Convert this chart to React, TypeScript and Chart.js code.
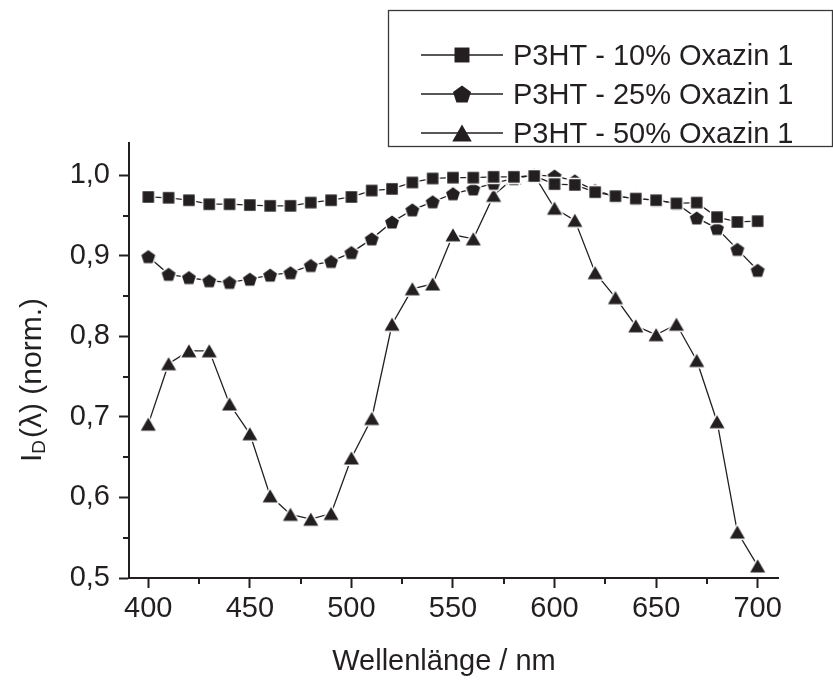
import React, { useEffect, useRef } from "react";
import { Chart, registerables } from "chart.js";

Chart.register(...registerables);

// ---------- data ----------
const wavelengths = [
  400, 410, 420, 430, 440, 450, 460, 470, 480, 490, 500, 510, 520, 530, 540, 550,
  560, 570, 580, 590, 600, 610, 620, 630, 640, 650, 660, 670, 680, 690, 700,
];
const oxazin10 = [
  0.973, 0.972, 0.969, 0.964, 0.964, 0.963, 0.962, 0.962, 0.966, 0.969, 0.973, 0.981, 0.983, 0.991, 0.996, 0.997,
  0.997, 0.998, 0.998, 0.999, 0.989, 0.988, 0.979, 0.974, 0.971, 0.969, 0.965, 0.966, 0.948, 0.942, 0.943,
];
const oxazin25 = [
  0.899, 0.877, 0.873, 0.869, 0.867, 0.871, 0.876, 0.879, 0.888, 0.893, 0.904, 0.921, 0.942, 0.957, 0.967, 0.977,
  0.983, 0.99, 0.996, 1.0, 0.999, 0.993, 0.981, 0.974, 0.971, 0.969, 0.965, 0.947, 0.934, 0.908, 0.882,
];
const oxazin50 = [
  0.691, 0.766, 0.782, 0.782, 0.716, 0.679, 0.602, 0.579, 0.573, 0.58, 0.649, 0.698, 0.815, 0.859, 0.865, 0.926,
  0.921, 0.975, 0.997, 1.0, 0.959, 0.944, 0.879, 0.848, 0.813, 0.802, 0.815, 0.77, 0.694, 0.557, 0.515,
];
const seriesNames = ["P3HT - 10% Oxazin 1", "P3HT - 25% Oxazin 1", "P3HT - 50% Oxazin 1"];
const markerKinds = ["square", "pentagon", "triangle"];
const xTitle = "Wellenlänge / nm";
const yTitleMain = "I";
const yTitleSub = "D";
const yTitleRest = "(λ) (norm.)";
const xMinorTicks = [425, 475, 525, 575, 625, 675];
const yMinorTicks = [0.55, 0.65, 0.75, 0.85, 0.95];

// ---------- style ----------
const INK = "#231f20";
const FONT = "'Liberation Sans', Arial, Helvetica, sans-serif";
const FS = 29;

function markerPath(ctx: CanvasRenderingContext2D, kind: string, cx: number, cy: number, k: number) {
  ctx.beginPath();
  if (kind === "square") {
    const s = 11.5 * k;
    ctx.rect(cx - s / 2, cy - s / 2, s, s);
  } else if (kind === "pentagon") {
    const R = 7.3 * k;
    const off = 0.0955 * R;
    for (let i = 0; i < 5; i++) {
      const a = -Math.PI / 2 + (i * 2 * Math.PI) / 5;
      const px = cx + R * Math.cos(a);
      const py = cy + off + R * Math.sin(a);
      if (i === 0) ctx.moveTo(px, py);
      else ctx.lineTo(px, py);
    }
    ctx.closePath();
  } else {
    const w = 15 * k;
    const h = 13 * k;
    ctx.moveTo(cx, cy - h / 2);
    ctx.lineTo(cx + w / 2, cy + h / 2);
    ctx.lineTo(cx - w / 2, cy + h / 2);
    ctx.closePath();
  }
}

function drawMarker(ctx: CanvasRenderingContext2D, kind: string, cx: number, cy: number, k: number, halo: boolean) {
  markerPath(ctx, kind, cx, cy, k);
  if (halo) {
    ctx.lineJoin = "round";
    ctx.lineWidth = 3;
    ctx.strokeStyle = "#ffffff";
    ctx.stroke();
  }
  ctx.fillStyle = INK;
  ctx.fill();
}

function makeMarkerCanvas(kind: string): HTMLCanvasElement {
  const c = document.createElement("canvas");
  c.width = 24;
  c.height = 24;
  const ctx = c.getContext("2d")!;
  drawMarker(ctx, kind, 12, 12, 1, true);
  return c;
}

const decorPlugin = {
  id: "decor",
  afterDraw(chart: any) {
    const ctx: CanvasRenderingContext2D = chart.ctx;
    const xs = chart.scales.x;
    const ys = chart.scales.y;
    const area = chart.chartArea;
    ctx.save();
    // minor ticks
    ctx.strokeStyle = INK;
    ctx.lineWidth = 2;
    ctx.beginPath();
    xMinorTicks.forEach((v) => {
      const p = Math.round(xs.getPixelForValue(v));
      ctx.moveTo(p, area.bottom);
      ctx.lineTo(p, area.bottom + 6);
    });
    yMinorTicks.forEach((v) => {
      const p = Math.round(ys.getPixelForValue(v));
      ctx.moveTo(area.left, p);
      ctx.lineTo(area.left - 6, p);
    });
    ctx.stroke();

    // x title
    ctx.fillStyle = INK;
    ctx.font = `${FS}px ${FONT}`;
    ctx.textAlign = "center";
    ctx.textBaseline = "alphabetic";
    ctx.fillText(xTitle, 444, 670);

    // y title (rotated, with subscript)
    ctx.save();
    ctx.translate(41, 380);
    ctx.rotate(-Math.PI / 2);
    ctx.textAlign = "left";
    const big = `30px ${FONT}`;
    const small = `19px ${FONT}`;
    ctx.font = big;
    const wI = ctx.measureText(yTitleMain).width;
    const wR = ctx.measureText(yTitleRest).width;
    ctx.font = small;
    const wD = ctx.measureText(yTitleSub).width;
    const gap = 2;
    let x0 = -(wI + wD + wR + gap) / 2;
    ctx.font = big;
    ctx.fillText(yTitleMain, x0, 0);
    x0 += wI;
    ctx.font = small;
    ctx.fillText(yTitleSub, x0, 4);
    x0 += wD + gap;
    ctx.font = big;
    ctx.fillText(yTitleRest, x0, 0);
    ctx.restore();

    // legend box
    ctx.fillStyle = "#ffffff";
    ctx.fillRect(388.5, 10.5, 444, 136);
    ctx.strokeStyle = "#3a3a3a";
    ctx.lineWidth = 1.3;
    ctx.strokeRect(388.5, 10.5, 444, 136);
    const rows = [55, 94, 133];
    seriesNames.forEach((name, i) => {
      const y = rows[i];
      ctx.strokeStyle = INK;
      ctx.lineWidth = 1.3;
      ctx.beginPath();
      ctx.moveTo(421, y);
      ctx.lineTo(503, y);
      ctx.stroke();
      drawMarker(ctx, markerKinds[i], 462, y, 1.3, false);
      ctx.fillStyle = INK;
      ctx.font = `${FS}px ${FONT}`;
      ctx.textAlign = "left";
      ctx.textBaseline = "alphabetic";
      ctx.fillText(name, 513, y + 10.4);
    });
    ctx.restore();
  },
};

export default function App() {
  const canvasRef = useRef<HTMLCanvasElement | null>(null);

  useEffect(() => {
    const canvas = canvasRef.current;
    if (!canvas) return;
    const series = [oxazin10, oxazin25, oxazin50];
    const markers = markerKinds.map((k) => makeMarkerCanvas(k));
    const chart = new Chart(canvas, {
      type: "line",
      data: {
        datasets: series.map((vals, i) => ({
          label: seriesNames[i],
          data: wavelengths.map((w, j) => ({ x: w, y: vals[j] })),
          borderColor: INK,
          backgroundColor: INK,
          borderWidth: 1.3,
          pointStyle: markers[i] as any,
          pointRadius: 7,
          pointHoverRadius: 7,
          fill: false,
          tension: 0,
        })),
      },
      options: {
        animation: false,
        responsive: false,
        devicePixelRatio: 1,
        events: [],
        layout: { padding: { top: 143, right: 55, left: 0, bottom: 0 } },
        plugins: {
          legend: { display: false },
          tooltip: { enabled: false },
          title: { display: false },
        },
        scales: {
          x: {
            type: "linear",
            min: 390.5,
            max: 710,
            afterFit: (s: any) => {
              s.height = 104;
            },
            ticks: {
              stepSize: 50,
              includeBounds: false,
              autoSkip: false,
              maxRotation: 0,
              padding: 4,
              color: INK,
              font: { family: FONT, size: FS },
            },
            grid: {
              drawOnChartArea: false,
              drawTicks: true,
              tickLength: 10,
              tickWidth: 2,
              tickColor: INK,
            },
            border: { display: true, color: INK, width: 2 },
          },
          y: {
            type: "linear",
            min: 0.5,
            max: 1.04,
            afterFit: (s: any) => {
              s.width = 129;
            },
            ticks: {
              stepSize: 0.1,
              includeBounds: false,
              padding: 9,
              color: INK,
              font: { family: FONT, size: FS },
              callback: (v: any) => Number(v).toFixed(1).replace(".", ","),
            },
            grid: {
              drawOnChartArea: false,
              drawTicks: true,
              tickLength: 10,
              tickWidth: 2,
              tickColor: INK,
            },
            border: { display: true, color: INK, width: 2 },
          },
        },
      },
      plugins: [decorPlugin],
    });
    return () => chart.destroy();
  }, []);

  return (
    <div style={{ position: "absolute", left: 0, top: 0, width: 833, height: 682, background: "#fff" }}>
      <canvas ref={canvasRef} width={833} height={682} style={{ display: "block" }} />
    </div>
  );
}
